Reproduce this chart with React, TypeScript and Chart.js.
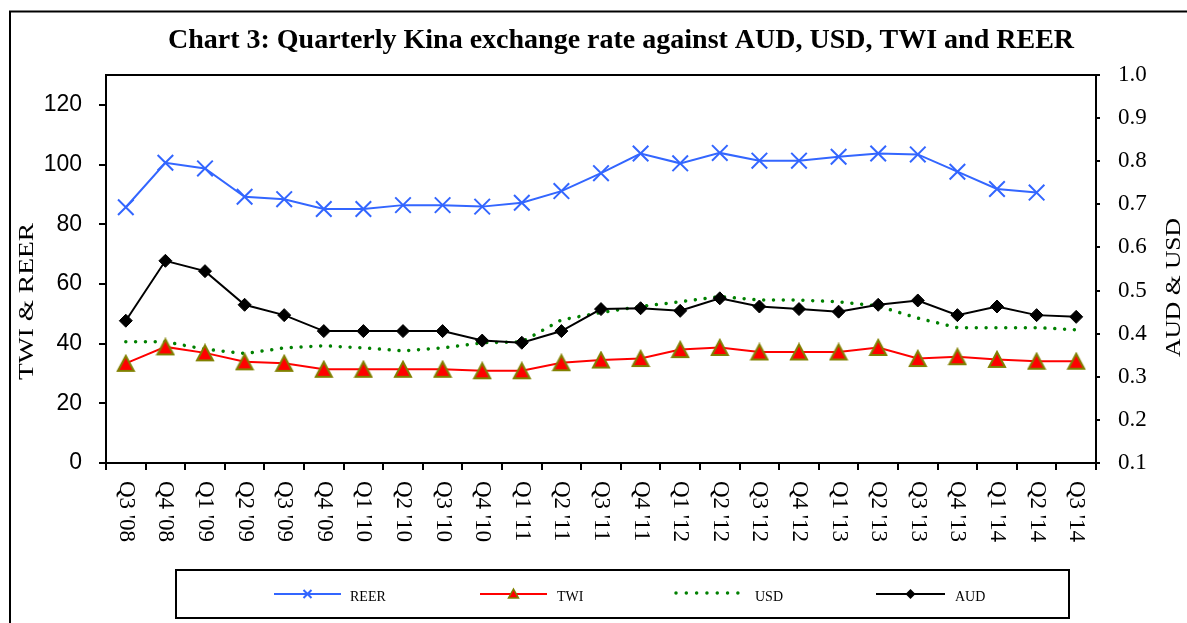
import React, { useEffect, useRef } from 'react';
import { Chart, registerables } from 'chart.js';

Chart.register(...registerables);

const categories = [
  "Q3 '08", "Q4 '08", "Q1 '09", "Q2 '09", "Q3 '09", "Q4 '09", "Q1 '10", "Q2 '10", "Q3 '10",
  "Q4 '10", "Q1 '11", "Q2 '11", "Q3 '11", "Q4 '11", "Q1 '12", "Q2 '12", "Q3 '12", "Q4 '12",
  "Q1 '13", "Q2 '13", "Q3 '13", "Q4 '13", "Q1 '14", "Q2 '14", "Q3 '14",
];

const reer = [
  85.7, 100.6, 98.7, 89.2, 88.4, 85.1, 85.1, 86.4, 86.4, 85.9, 87.2, 91.1, 97.1,
  103.7, 100.4, 103.9, 101.3, 101.3, 102.6, 103.7, 103.4, 97.6, 91.8, 90.6, null,
];

const twi = [
  33.4, 38.9, 36.9, 33.9, 33.4, 31.4, 31.4, 31.4, 31.4, 30.9, 30.9, 33.6, 34.5,
  35.0, 38.0, 38.7, 37.2, 37.2, 37.2, 38.7, 35.0, 35.6, 34.7, 34.1, 34.1,
];

const usd = [
  0.381, 0.381, 0.364, 0.354, 0.367, 0.372, 0.367, 0.36, 0.367, 0.379, 0.381, 0.432, 0.449,
  0.463, 0.474, 0.486, 0.478, 0.478, 0.474, 0.464, 0.436, 0.414, 0.414, 0.414, 0.409,
];

const aud = [
  0.43, 0.569, 0.545, 0.467, 0.443, 0.406, 0.406, 0.406, 0.406, 0.384, 0.379, 0.406, 0.457,
  0.459, 0.453, 0.482, 0.463, 0.457, 0.451, 0.467, 0.477, 0.443, 0.463, 0.443, 0.439,
];

const leftTicks = [0, 20, 40, 60, 80, 100, 120];
const rightTicks = [0.1, 0.2, 0.3, 0.4, 0.5, 0.6, 0.7, 0.8, 0.9, 1.0];

const titleText = 'Chart 3: Quarterly Kina exchange rate against AUD, USD, TWI and REER';
const leftTitle = 'TWI & REER';
const rightTitle = 'AUD & USD';
const seriesNames = ['REER', 'TWI', 'USD', 'AUD'];

const BLUE = '#3366ff';
const RED = '#ff0000';
const OLIVE = '#808000';
const GREEN = '#008000';
const SERIF = '"Liberation Serif", "Times New Roman", serif';
const SANS = '"Liberation Sans", Arial, sans-serif';

function makeTriangle(w: number, h: number, lw: number): HTMLCanvasElement {
  const c = document.createElement('canvas');
  c.width = Math.ceil(w + lw * 2);
  c.height = Math.ceil(h + lw * 2);
  const ctx = c.getContext('2d')!;
  const cx = c.width / 2;
  const top = lw;
  const bottom = lw + h;
  ctx.beginPath();
  ctx.moveTo(cx, top);
  ctx.lineTo(cx + w / 2, bottom);
  ctx.lineTo(cx - w / 2, bottom);
  ctx.closePath();
  ctx.fillStyle = RED;
  ctx.fill();
  ctx.lineWidth = lw;
  ctx.strokeStyle = OLIVE;
  ctx.lineJoin = 'miter';
  ctx.stroke();
  return c;
}

function drawRotatedFit(
  ctx: CanvasRenderingContext2D,
  text: string,
  baseX: number,
  cy: number,
  font: string,
  targetLen: number,
) {
  ctx.save();
  ctx.font = font;
  const w = ctx.measureText(text).width;
  ctx.translate(baseX, cy);
  ctx.rotate(-Math.PI / 2);
  ctx.scale(targetLen / w, 1);
  ctx.textAlign = 'center';
  ctx.textBaseline = 'alphabetic';
  ctx.fillStyle = '#000';
  ctx.fillText(text, 0, 0);
  ctx.restore();
}

const decorPlugin = {
  id: 'decor',
  afterDraw(chart: any) {
    const ctx: CanvasRenderingContext2D = chart.ctx;
    const area = chart.chartArea;
    const xScale = chart.scales.x;
    ctx.save();

    // outer frame
    ctx.strokeStyle = '#000';
    ctx.lineWidth = 2;
    ctx.strokeRect(10, 11.5, 1400, 800);

    // plot area frame
    ctx.lineWidth = 2;
    ctx.strokeRect(area.left, area.top, area.right - area.left, area.bottom - area.top);

    // title
    ctx.fillStyle = '#000';
    ctx.font = `bold 28px ${SERIF}`;
    ctx.textAlign = 'center';
    ctx.textBaseline = 'alphabetic';
    ctx.fillText(titleText, 621, 48);

    // x labels rotated clockwise
    ctx.font = `23px ${SERIF}`;
    ctx.textAlign = 'left';
    ctx.textBaseline = 'middle';
    categories.forEach((lab, i) => {
      const x = xScale.getPixelForValue(i);
      ctx.save();
      ctx.translate(x, 481);
      ctx.rotate(Math.PI / 2);
      ctx.fillText(lab, 0, 0);
      ctx.restore();
    });

    // axis titles
    drawRotatedFit(ctx, leftTitle, 33, 301.5, `20px ${SERIF}`, 157);
    drawRotatedFit(ctx, rightTitle, 1180, 287.5, `20px ${SERIF}`, 139);

    // legend
    ctx.lineWidth = 2;
    ctx.strokeStyle = '#000';
    ctx.strokeRect(176, 570, 893, 48);
    const ly = 594;
    const items = [
      { x0: 274, x1: 341, tx: 350 },
      { x0: 480, x1: 547, tx: 557 },
      { x0: 676, x1: 740, tx: 755 },
      { x0: 876, x1: 945, tx: 955 },
    ];
    // REER
    ctx.strokeStyle = BLUE;
    ctx.lineWidth = 2;
    ctx.beginPath();
    ctx.moveTo(items[0].x0, ly);
    ctx.lineTo(items[0].x1, ly);
    ctx.stroke();
    const rc = (items[0].x0 + items[0].x1) / 2;
    ctx.beginPath();
    ctx.moveTo(rc - 4, ly - 4);
    ctx.lineTo(rc + 4, ly + 4);
    ctx.moveTo(rc + 4, ly - 4);
    ctx.lineTo(rc - 4, ly + 4);
    ctx.stroke();
    // TWI
    ctx.strokeStyle = RED;
    ctx.beginPath();
    ctx.moveTo(items[1].x0, ly);
    ctx.lineTo(items[1].x1, ly);
    ctx.stroke();
    const tc = (items[1].x0 + items[1].x1) / 2;
    ctx.beginPath();
    ctx.moveTo(tc, ly - 5);
    ctx.lineTo(tc + 5, ly + 4);
    ctx.lineTo(tc - 5, ly + 4);
    ctx.closePath();
    ctx.fillStyle = RED;
    ctx.fill();
    ctx.strokeStyle = OLIVE;
    ctx.lineWidth = 1.5;
    ctx.stroke();
    // USD
    ctx.save();
    ctx.strokeStyle = GREEN;
    ctx.lineWidth = 3.5;
    ctx.lineCap = 'round';
    ctx.setLineDash([0.01, 10.3]);
    ctx.beginPath();
    ctx.moveTo(items[2].x0, ly - 1);
    ctx.lineTo(items[2].x1, ly - 1);
    ctx.stroke();
    ctx.restore();
    // AUD
    ctx.strokeStyle = '#000';
    ctx.lineWidth = 2;
    ctx.beginPath();
    ctx.moveTo(items[3].x0, ly);
    ctx.lineTo(items[3].x1, ly);
    ctx.stroke();
    const ac = (items[3].x0 + items[3].x1) / 2;
    ctx.beginPath();
    ctx.moveTo(ac, ly - 5);
    ctx.lineTo(ac + 5, ly);
    ctx.lineTo(ac, ly + 5);
    ctx.lineTo(ac - 5, ly);
    ctx.closePath();
    ctx.fillStyle = '#000';
    ctx.fill();

    ctx.fillStyle = '#000';
    ctx.font = `14px ${SERIF}`;
    ctx.textAlign = 'left';
    ctx.textBaseline = 'middle';
    seriesNames.forEach((n, i) => ctx.fillText(n, items[i].tx, 597));

    ctx.restore();
  },
};

export default function App() {
  const ref = useRef<HTMLCanvasElement | null>(null);

  useEffect(() => {
    if (!ref.current) return;
    const tri = makeTriangle(16, 15, 2);
    const chart = new Chart(ref.current, {
      type: 'line',
      data: {
        labels: categories,
        datasets: [
          {
            label: seriesNames[0],
            data: reer,
            yAxisID: 'y',
            borderColor: BLUE,
            borderWidth: 2,
            pointStyle: 'crossRot',
            pointRadius: 11,
            pointBorderWidth: 2,
            pointBorderColor: BLUE,
            pointBackgroundColor: BLUE,
            tension: 0,
            order: 1,
          },
          {
            label: seriesNames[1],
            data: twi,
            yAxisID: 'y',
            borderColor: RED,
            borderWidth: 2,
            pointStyle: tri,
            pointRadius: 9,
            tension: 0,
            order: 3,
          },
          {
            label: seriesNames[2],
            data: usd,
            yAxisID: 'y1',
            borderColor: GREEN,
            borderWidth: 3.5,
            borderDash: [0.01, 9.8],
            borderCapStyle: 'round',
            pointRadius: 0,
            tension: 0,
            order: 4,
          },
          {
            label: seriesNames[3],
            data: aud,
            yAxisID: 'y1',
            borderColor: '#000',
            borderWidth: 2,
            pointStyle: 'rectRot',
            pointRadius: 6.5,
            pointBorderWidth: 1,
            pointBorderColor: '#000',
            pointBackgroundColor: '#000',
            tension: 0,
            order: 2,
          },
        ],
      },
      options: {
        animation: false,
        responsive: false,
        layout: { padding: { top: 75, left: 0, right: 0, bottom: 0 } },
        plugins: {
          legend: { display: false },
          tooltip: { enabled: false },
          title: { display: false },
        },
        scales: {
          x: {
            type: 'category',
            offset: true,
            grid: {
              offset: true,
              drawOnChartArea: false,
              drawTicks: true,
              tickLength: 7,
              color: '#000',
              lineWidth: 2,
            },
            border: { display: true, color: '#000', width: 2 },
            ticks: { display: false, autoSkip: false },
            afterFit: (s: any) => {
              s.height = 160;
            },
          },
          y: {
            position: 'left',
            min: 0,
            max: 130,
            afterBuildTicks: (s: any) => {
              s.ticks = leftTicks.map((v) => ({ value: v }));
            },
            grid: { drawOnChartArea: false, tickLength: 7, color: '#000', lineWidth: 2 },
            border: { display: true, color: '#000', width: 2 },
            ticks: {
              color: '#000',
              padding: 17,
              font: { family: SANS, size: 23 },
            },
            afterFit: (s: any) => {
              s.width = 106;
            },
          },
          y1: {
            position: 'right',
            min: 0.1,
            max: 1.0,
            afterBuildTicks: (s: any) => {
              s.ticks = rightTicks.map((v) => ({ value: v }));
            },
            grid: { drawOnChartArea: false, tickLength: 4, color: '#000', lineWidth: 2 },
            border: { display: true, color: '#000', width: 2 },
            ticks: {
              color: '#000',
              padding: 18,
              font: { family: SERIF, size: 23 },
              callback: (v: any) => Number(v).toFixed(1),
            },
            afterFit: (s: any) => {
              s.width = 91;
            },
          },
        },
      },
      plugins: [decorPlugin],
    } as any);
    return () => chart.destroy();
  }, []);

  return (
    <div style={{ position: 'fixed', left: 0, top: 0, width: 1187, height: 623, background: '#fff' }}>
      <canvas ref={ref} width={1187} height={623} style={{ display: 'block' }} />
    </div>
  );
}
